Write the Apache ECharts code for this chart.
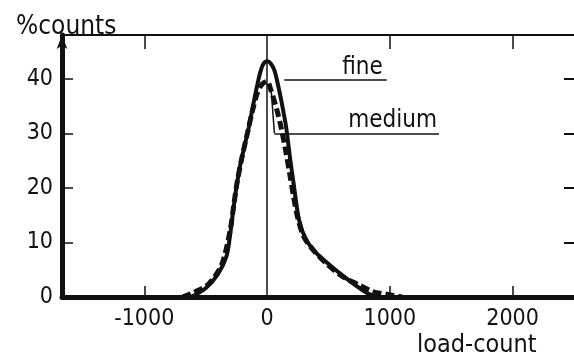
<!DOCTYPE html>
<html>
<head>
<meta charset="utf-8">
<script src="https://cdn.jsdelivr.net/npm/echarts@6/dist/echarts.min.js"></script>
<style>
  html, body { margin: 0; padding: 0; background: #fff; }
  #chart { width: 574px; height: 356px; }
</style>
</head>
<body>
<div id="chart"></div>
<script>
// load-count distribution
const fineX = [-620, -500, -400, -330, -300, -275, -250, -220, -180, -150, -110, -80, -55, -30, 0, 30, 60, 90, 115, 155, 190, 215, 261, 318, 400, 530, 640, 730, 810, 890]
const fineY = [0, 1.6, 4.2, 7.5, 11.5, 16, 20, 24, 28, 31, 35.5, 38.8, 41.2, 42.7, 43.2, 42.8, 41.5, 38.8, 36.1, 31.2, 25, 21, 14.1, 10.5, 8.1, 5.5, 3.5, 2.0, 0.8, 0]

const mediumX = [-690, -600, -480, -370, -300, -270, -240, -200, -160, -120, -80, -40, 0, 30, 80, 115, 150, 185, 215, 250, 300, 380, 480, 610, 750, 860, 1000, 1100]
const mediumY = [0, 0.8, 2.3, 5.9, 12.3, 17, 21.5, 26, 30, 34, 37.3, 39, 39.5, 38, 34.3, 31, 27, 22.5, 18.5, 14.5, 11, 8.5, 6.2, 3.8, 2.2, 1.0, 0.4, 0]

const xTickLabels = [-1000, 0, 1000, 2000]
const xTicks = [-1000, 1000, 2000]
const yTickLabels = [0, 10, 20, 30, 40]
const yTicks = [10, 20, 30, 40]

// leader lines for the two curve labels (data coords)
const fineLeader = [[140, 39.8], [975, 39.8]]
const mediumLeader = [[30, 39], [60, 30], [1400, 30]]

const FONT = '"DejaVu Sans Condensed", "DejaVu Sans", sans-serif'
const INK = '#111'

const chart = echarts.init(document.getElementById('chart'))

const toPairs = (xs, ys) => xs.map((x, i) => [x, ys[i]])

const option = {
  backgroundColor: '#fff',
  animation: false,
  title: [
    { text: '%counts', left: 11, top: 9, textStyle: { fontFamily: FONT, fontSize: 26, fontWeight: 'normal', color: INK } },
    { text: 'load-count', left: 412, top: 328, textStyle: { fontFamily: FONT, fontSize: 25, fontWeight: 'normal', color: INK } }
  ],
  grid: { left: 62, right: -2, top: 35, bottom: 59 },
  xAxis: [
    {
      type: 'value', min: -1670, max: 2500, position: 'bottom',
      splitLine: { show: false },
      axisLine: { onZero: false, lineStyle: { color: INK, width: 5 } },
      axisTick: { inside: true, length: 11, customValues: xTicks, lineStyle: { color: INK, width: 1.5 } },
      axisLabel: { customValues: xTickLabels, margin: 11, formatter: v => String(v), fontFamily: FONT, fontSize: 23, color: INK }
    },
    {
      type: 'value', min: -1670, max: 2500, position: 'top',
      splitLine: { show: false },
      axisLine: { onZero: false, lineStyle: { color: INK, width: 2 } },
      axisTick: { inside: true, length: 14, customValues: xTicks, lineStyle: { color: INK, width: 1.5 } },
      axisLabel: { show: false }
    }
  ],
  yAxis: [
    {
      type: 'value', min: 0, max: 48, position: 'left',
      splitLine: { show: false },
      axisLine: { show: true, onZero: false, symbol: ['none', 'arrow'], symbolSize: [8, 14], lineStyle: { color: INK, width: 5 } },
      axisTick: { inside: true, length: 11, customValues: yTicks, lineStyle: { color: INK, width: 1.5 } },
      axisLabel: { customValues: yTickLabels, margin: 9, fontFamily: FONT, fontSize: 23, color: INK }
    },
    {
      type: 'value', min: 0, max: 48, position: 'right',
      splitLine: { show: false },
      axisLine: { show: false, onZero: false },
      axisTick: { show: true, inside: true, length: 10, customValues: yTicks, lineStyle: { color: INK, width: 2 } },
      axisLabel: { show: false }
    }
  ],
  series: [
    {
      name: 'fine',
      type: 'line',
      data: toPairs(fineX, fineY),
      smooth: 0.3,
      showSymbol: false,
      lineStyle: { color: INK, width: 4 },
      markLine: {
        silent: true,
        symbol: ['none', 'none'],
        lineStyle: { color: INK, width: 1.5, type: 'solid' },
        label: { show: false },
        data: [
          { xAxis: 0, label: { show: false } },
          [
            { coord: fineLeader[0] },
            { coord: fineLeader[1], label: { show: true, position: 'insideEndTop', formatter: 'fine', distance: [4, 0], fontFamily: FONT, fontSize: 24, color: INK } }
          ]
        ]
      }
    },
    {
      name: 'medium',
      type: 'line',
      data: toPairs(mediumX, mediumY),
      smooth: 0.3,
      showSymbol: false,
      lineStyle: { color: INK, width: 5, type: [9, 4] },
      markLine: {
        silent: true,
        symbol: ['none', 'none'],
        lineStyle: { color: INK, width: 1.5, type: 'solid' },
        label: { show: false },
        data: [
          [{ coord: mediumLeader[0] }, { coord: mediumLeader[1] }],
          [
            { coord: mediumLeader[1] },
            { coord: mediumLeader[2], label: { show: true, position: 'insideEndTop', formatter: 'medium', distance: [2, 0], fontFamily: FONT, fontSize: 24, color: INK } }
          ]
        ]
      }
    }
  ]
}

option && chart.setOption(option)
</script>
</body>
</html>
